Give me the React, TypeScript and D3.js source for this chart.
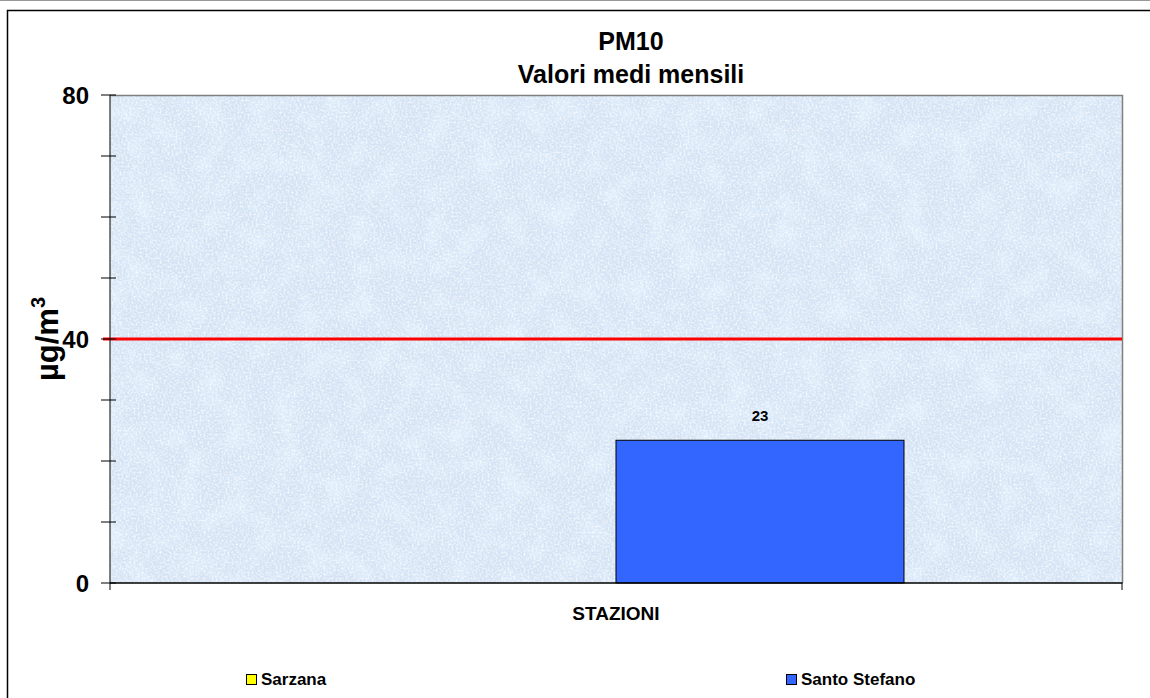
import React, { useEffect, useRef } from 'react';
import * as d3 from 'd3';

// chart values
const categories = ['STAZIONI'];
const seriesNames = ['Sarzana', 'Santo Stefano'];
const seriesColors = ['#ffff00', '#3366ff'];
const seriesValues: (number | null)[] = [null, 23.4];
const yTicks = [0, 10, 20, 30, 40, 50, 60, 70, 80];
const yLabels = [0, 40, 80];
const limitValue = 40;
const titleLines = ['PM10', 'Valori medi mensili'];

const W = 1150;
const H = 698;
const margin = { top: 95, right: 28, bottom: 115, left: 110 };
const font = '"Liberation Sans", Arial, Helvetica, sans-serif';

const App: React.FC = () => {
	const ref = useRef<SVGSVGElement>(null);

	useEffect(() => {
		const svg = d3.select(ref.current);
		svg.selectAll('*').remove();

		const left = margin.left;
		const right = W - margin.right;
		const top = margin.top;
		const bottom = H - margin.bottom;

		const y = d3.scaleLinear().domain([0, 80]).range([bottom, top]);
		const x = d3.scaleBand().domain(categories).range([left, right]).paddingOuter(0.3785).paddingInner(0);
		const xs = d3.scaleBand().domain(seriesNames).range([0, x.bandwidth()]);

		// paper texture for the plot area: coarse blotches + fine speckle
		const defs = svg.append('defs');
		const f = defs.append('filter').attr('id', 'tex').attr('x', 0).attr('y', 0).attr('width', '100%').attr('height', '100%');
		f.append('feTurbulence')
			.attr('type', 'fractalNoise')
			.attr('baseFrequency', 0.04)
			.attr('numOctaves', 2)
			.attr('seed', 3)
			.attr('result', 'big');
		f.append('feColorMatrix')
			.attr('in', 'big')
			.attr('type', 'matrix')
			.attr('values', '0 0 0 0 0.72  0 0 0 0 0.85  0 0 0 0 0.97  0 0 0 2.2 -0.9')
			.attr('result', 'bigc');
		f.append('feTurbulence')
			.attr('type', 'fractalNoise')
			.attr('baseFrequency', 0.5)
			.attr('numOctaves', 2)
			.attr('seed', 9)
			.attr('result', 'fine');
		f.append('feColorMatrix')
			.attr('in', 'fine')
			.attr('type', 'matrix')
			.attr('values', '0 0 0 0 1  0 0 0 0 1  0 0 0 0 1  0 0 0 1.8 -0.7')
			.attr('result', 'finec');
		const merge = f.append('feMerge');
		merge.append('feMergeNode').attr('in', 'bigc');
		merge.append('feMergeNode').attr('in', 'finec');

		// outer frame
		svg.append('path')
			.attr('d', `M7.5,${H} L7.5,10.5 L${W},10.5`)
			.attr('fill', 'none')
			.attr('stroke', '#000')
			.attr('stroke-width', 1.5);
		svg.append('line')
			.attr('x1', 0).attr('x2', W).attr('y1', 0.5).attr('y2', 0.5)
			.attr('stroke', '#999');

		svg.append('rect')
			.attr('x', left).attr('y', top)
			.attr('width', right - left).attr('height', bottom - top)
			.attr('fill', '#d3e2f4');
		svg.append('rect')
			.attr('x', left).attr('y', top)
			.attr('width', right - left).attr('height', bottom - top)
			.attr('fill', '#fff')
			.attr('filter', 'url(#tex)');

		// plot border top/right
		svg.append('path')
			.attr('d', `M${left},${top + 0.5} L${right + 0.5},${top + 0.5} L${right + 0.5},${bottom}`)
			.attr('fill', 'none')
			.attr('stroke', '#808080')
			.attr('stroke-width', 1.5);

		// limit line
		svg.append('line')
			.attr('x1', left - 7).attr('x2', right)
			.attr('y1', y(limitValue)).attr('y2', y(limitValue))
			.attr('stroke', '#ff0000')
			.attr('stroke-width', 3);

		// bars
		categories.forEach((c) => {
			seriesNames.forEach((s, i) => {
				const v = seriesValues[i];
				if (v == null) return;
				const bx = (x(c) as number) + (xs(s) as number);
				svg.append('rect')
					.attr('x', bx).attr('y', y(v))
					.attr('width', xs.bandwidth()).attr('height', y(0) - y(v))
					.attr('fill', seriesColors[i])
					.attr('stroke', '#000')
					.attr('stroke-width', 1);
				svg.append('text')
					.attr('x', bx + xs.bandwidth() / 2)
					.attr('y', y(v) - 19)
					.attr('text-anchor', 'middle')
					.attr('font-family', font)
					.attr('font-weight', 'bold')
					.attr('font-size', 15)
					.text(d3.format('.0f')(v));
			});
		});

		// y axis
		svg.append('line')
			.attr('x1', left).attr('x2', left).attr('y1', top).attr('y2', bottom)
			.attr('stroke', '#000');
		svg.selectAll('.ytick')
			.data(yTicks)
			.enter()
			.append('line')
			.attr('class', 'ytick')
			.attr('x1', left - 9).attr('x2', left + 6)
			.attr('y1', (d) => y(d)).attr('y2', (d) => y(d))
			.attr('stroke', '#000');
		svg.selectAll('.ylab')
			.data(yLabels)
			.enter()
			.append('text')
			.attr('class', 'ylab')
			.attr('x', left - 21)
			.attr('y', (d) => y(d))
			.attr('dy', '0.36em')
			.attr('text-anchor', 'end')
			.attr('font-family', font)
			.attr('font-weight', 'bold')
			.attr('font-size', 24)
			.text((d) => d);

		// x axis
		svg.append('line')
			.attr('x1', left).attr('x2', right + 0.5).attr('y1', bottom).attr('y2', bottom)
			.attr('stroke', '#000')
			.attr('stroke-width', 1.5);
		[left, right].forEach((tx) => {
			svg.append('line')
				.attr('x1', tx).attr('x2', tx).attr('y1', bottom).attr('y2', bottom + 7)
				.attr('stroke', '#000');
		});
		categories.forEach((c) => {
			svg.append('text')
				.attr('x', (x(c) as number) + x.bandwidth() / 2)
				.attr('y', bottom + 37)
				.attr('text-anchor', 'middle')
				.attr('font-family', font)
				.attr('font-weight', 'bold')
				.attr('font-size', 19)
				.text(c);
		});

		// y title
		const yt = svg.append('text')
			.attr('transform', `translate(58,${(top + bottom) / 2}) rotate(-90)`)
			.attr('text-anchor', 'middle')
			.attr('font-family', font)
			.attr('font-weight', 'bold')
			.attr('font-size', 31);
		yt.append('tspan').text('µg/m');
		yt.append('tspan').attr('font-size', 20).attr('dy', -13).text('3');

		// title
		titleLines.forEach((t, i) => {
			svg.append('text')
				.attr('x', 631)
				.attr('y', 50 + i * 33)
				.attr('text-anchor', 'middle')
				.attr('font-family', font)
				.attr('font-weight', 'bold')
				.attr('font-size', 25)
				.text(t);
		});

		// legend
		const lx = d3.scalePoint().domain(seriesNames).range([246, 786]);
		seriesNames.forEach((s, i) => {
			const gx = lx(s) as number;
			svg.append('rect')
				.attr('x', gx + 0.5).attr('y', 674.5)
				.attr('width', 10).attr('height', 10)
				.attr('fill', seriesColors[i])
				.attr('stroke', '#000');
			svg.append('text')
				.attr('x', gx + 15)
				.attr('y', 685)
				.attr('font-family', font)
				.attr('font-weight', 'bold')
				.attr('font-size', 17)
				.text(s);
		});
	}, []);

	return (
		<svg
			ref={ref}
			width={W}
			height={H}
			style={{ position: 'absolute', left: 0, top: 0, background: '#fff' }}
		/>
	);
};

export default App;
